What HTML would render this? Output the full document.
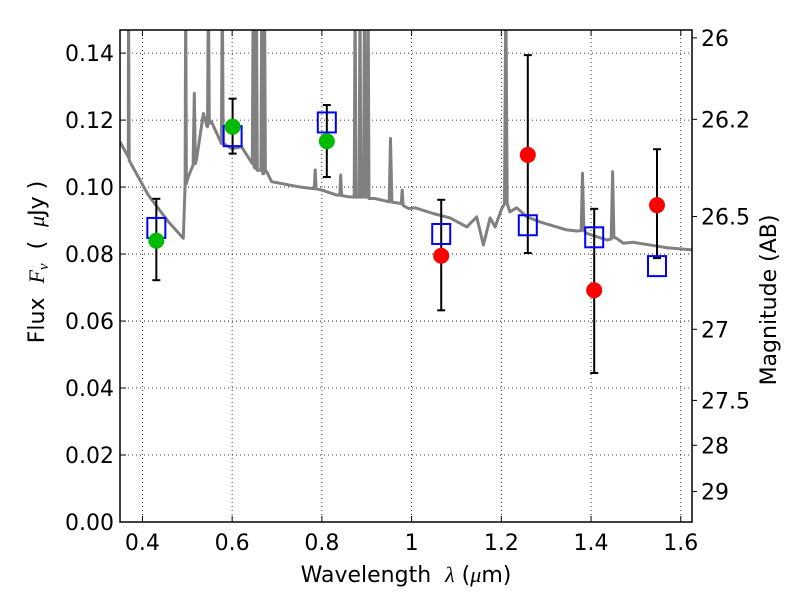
<!DOCTYPE html>
<html><head><meta charset="utf-8"><style>
body{margin:0;background:#fff;}
svg{display:block;font-family:"DejaVu Sans","Liberation Sans",sans-serif;}
text{white-space:pre;}
</style></head><body>
<svg id="chart" width="800" height="600" viewBox="0 0 800 600">
<defs><clipPath id="pc"><rect x="120" y="30" width="572" height="492"/></clipPath></defs>
<g id="grid"></g>
<g id="spec" clip-path="url(#pc)"></g>
<g id="marks" clip-path="url(#pc)"></g>
<rect x="120" y="30" width="572" height="492" fill="none" stroke="#000" stroke-width="1.5"/>
<g id="axes"></g>
<text x="406" y="582" font-size="22" text-anchor="middle">Wavelength  <tspan font-style="italic" font-family="Liberation Serif,serif">λ</tspan> (<tspan font-style="italic" font-family="Liberation Serif,serif">μ</tspan>m)</text>
<text transform="translate(44,262) rotate(-90)" font-size="22" text-anchor="middle">Flux  <tspan font-style="italic" font-family="Liberation Serif,serif">F<tspan font-size="15" dy="4">ν</tspan></tspan><tspan dy="-4">  (  </tspan><tspan font-style="italic" font-family="Liberation Serif,serif">μ</tspan>Jy )</text>
<text transform="translate(776,300) rotate(-90)" font-size="22" text-anchor="middle">Magnitude (AB)</text>
</svg>
<script>
const specWave=[0.35,0.3685,0.369,0.3705,0.376,0.413,0.458,0.491,0.495,0.4965,0.498,0.501,0.513,0.5157,0.518,0.521,0.536,0.543,0.545,0.547,0.549,0.554,0.576,0.578,0.580,0.599,0.621,0.645,0.647,0.649,0.651,0.653,0.654,0.656,0.664,0.666,0.668,0.670,0.672,0.674,0.677,0.688,0.747,0.783,0.785,0.787,0.8,0.833,0.840,0.842,0.844,0.859,0.872,0.874,0.876,0.883,0.885,0.887,0.893,0.895,0.897,0.901,0.903,0.905,0.918,0.950,0.953,0.956,0.977,0.979,0.981,0.993,1.008,1.048,1.086,1.123,1.145,1.16,1.175,1.186,1.201,1.207,1.210,1.213,1.219,1.234,1.257,1.286,1.346,1.368,1.378,1.381,1.384,1.39,1.435,1.445,1.448,1.451,1.457,1.472,1.494,1.569,1.628];
const specFlux=[0.1135,0.109,0.16,0.108,0.1066,0.0976,0.0896,0.0847,0.1006,0.16,0.101,0.1026,0.1066,0.128,0.107,0.1086,0.122,0.1185,0.118,0.16,0.119,0.1195,0.113,0.16,0.113,0.1115,0.112,0.107,0.16,0.106,0.1056,0.106,0.16,0.105,0.105,0.16,0.104,0.104,0.16,0.1046,0.1046,0.1016,0.1001,0.0995,0.1051,0.0995,0.0991,0.0976,0.0976,0.1036,0.0975,0.0971,0.097,0.16,0.097,0.097,0.16,0.097,0.097,0.16,0.097,0.097,0.16,0.0966,0.0966,0.0956,0.1145,0.0955,0.0951,0.0991,0.0945,0.0936,0.0938,0.0921,0.0908,0.0881,0.0911,0.0827,0.0908,0.0881,0.0936,0.095,0.16,0.095,0.0926,0.0938,0.0911,0.0896,0.0872,0.0869,0.087,0.1041,0.087,0.0862,0.0842,0.0845,0.1046,0.085,0.0847,0.0832,0.0835,0.0819,0.0812];
const obsWave=[0.431,0.601,0.811,1.066,1.259,1.407,1.547];
const obsFlux=[0.0840,0.1180,0.1137,0.0795,0.1096,0.0692,0.0946];
const errLow=[0.0722,0.1100,0.1030,0.0632,0.0803,0.0445,0.0788];
const errHigh=[0.0965,0.1264,0.1245,0.0962,0.1394,0.0935,0.1113];
const modelFlux=[0.0878,0.1152,0.1193,0.0860,0.0886,0.0850,0.0764];
const obsColor=['#00bb00','#00bb00','#00bb00','#ff0000','#ff0000','#ff0000','#ff0000'];
const xTicks=[0.4,0.6,0.8,1.0,1.2,1.4,1.6];
const xTickLabels=['0.4','0.6','0.8','1','1.2','1.4','1.6'];
const yTicks=[0,0.02,0.04,0.06,0.08,0.10,0.12,0.14];
const yTickLabels=['0.00','0.02','0.04','0.06','0.08','0.10','0.12','0.14'];
const magTicks=[26,26.2,26.5,27,27.5,28,29];
const magTickLabels=['26','26.2','26.5','27','27.5','28','29'];

const X0=120,X1=692,Y0=522,Y1=30,xmin=0.35,xmax=1.625,ymin=0,ymax=0.1469;
const xs=v=>X0+(v-xmin)/(xmax-xmin)*(X1-X0);
const ys=v=>Y0-(v-ymin)/(ymax-ymin)*(Y0-Y1);
const magToFlux=m=>Math.pow(10,(23.9-m)/2.5);
const NS='http://www.w3.org/2000/svg';
function mk(tag,attrs,parent){const e=document.createElementNS(NS,tag);for(const k in attrs)e.setAttribute(k,attrs[k]);parent.appendChild(e);return e;}
const grid=document.getElementById('grid'),axes=document.getElementById('axes'),spec=document.getElementById('spec'),marks=document.getElementById('marks');

xTicks.forEach((t,i)=>{
  const x=xs(t);
  const g=mk('line',{x1:x,x2:x,y1:Y1,y2:Y0,stroke:'#000','stroke-width':0.8,'stroke-dasharray':'1,3'},grid);
  
  
  const a=mk('line',{x1:x,x2:x,y1:Y0,y2:Y0-6,stroke:'#000'},axes);
  
  
  const b=mk('line',{x1:x,x2:x,y1:Y1,y2:Y1+6,stroke:'#000'},axes);
  
  
  const tx=mk('text',{x:x,y:Y0+28,'font-size':22,'text-anchor':'middle'},axes);
  tx.textContent=xTickLabels[i];
  
  
});
yTicks.forEach((t,i)=>{
  const y=ys(t);
  const g=mk('line',{x1:X0,x2:X1,y1:y,y2:y,stroke:'#000','stroke-width':0.8,'stroke-dasharray':'1,3'},grid);
  
  
  const a=mk('line',{x1:X0,x2:X0+6,y1:y,y2:y,stroke:'#000'},axes);
  
  
  const tx=mk('text',{x:X0-6,y:y+8,'font-size':22,'text-anchor':'end'},axes);
  tx.textContent=yTickLabels[i];
  
  
});
magTicks.forEach((m,i)=>{
  const y=ys(magToFlux(m));
  const a=mk('line',{x1:X1,x2:X1+5,y1:y,y2:y,stroke:'#000'},axes);
  
  
  const tx=mk('text',{x:X1+9,y:y+8,'font-size':22,'text-anchor':'start'},axes);
  tx.textContent=magTickLabels[i];
  
  
});

const pts=specWave.map((w,i)=>xs(w).toFixed(1)+','+ys(specFlux[i]).toFixed(1)).join(' ');
const pl=mk('polyline',{points:pts,fill:'none',stroke:'#808080','stroke-width':3,'stroke-linejoin':'round'},spec);



obsWave.forEach((w,i)=>{
  const x=xs(w);
  const e=mk('line',{x1:x,x2:x,y1:ys(errLow[i]),y2:ys(errHigh[i]),stroke:'#000','stroke-width':2},marks);
  
  
  [errLow[i],errHigh[i]].forEach(v=>{
    const c=mk('line',{x1:x-4,x2:x+4,y1:ys(v),y2:ys(v),stroke:'#000','stroke-width':2},marks);
    
    
  });
  const s=mk('rect',{x:x-9,y:ys(modelFlux[i])-10,width:18,height:20,fill:'none',stroke:'#0000ff','stroke-width':2},marks);
  
  
  const d=mk('circle',{cx:x,cy:ys(obsFlux[i]),r:8,fill:obsColor[i]},marks);
  
  
});
</script>
</body></html>
